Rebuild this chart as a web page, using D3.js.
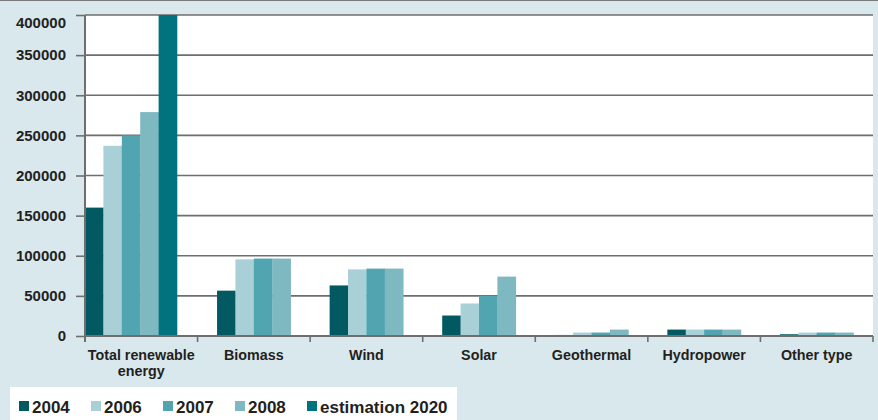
<!DOCTYPE html>
<html>
<head>
<meta charset="utf-8">
<script src="https://cdn.jsdelivr.net/npm/d3@7"></script>
<style>
  body { margin: 0; background: #d9e8ec; }
  svg { display: block; }
  text { font-family: "Liberation Sans", Arial, sans-serif; font-weight: bold; fill: #231f20; }
</style>
</head>
<body>
<div id="chart"></div>
<script>
// data
const categories = ["Total renewable energy", "Biomass", "Wind", "Solar", "Geothermal", "Hydropower", "Other type"];
const seriesNames = ["2004", "2006", "2007", "2008", "estimation 2020"];
const v2004 = [160000, 56500, 63000, 25500, 1300, 8000, 2200];
const v2006 = [237000, 95500, 83000, 40500, 4300, 8000, 4300];
const v2007 = [250000, 96500, 84000, 50000, 4300, 8000, 4300];
const v2008 = [279000, 96500, 84000, 74000, 8000, 8000, 4300];
const v2020 = [400000, null, null, null, null, null, null];
const yTicks = [0, 50000, 100000, 150000, 200000, 250000, 300000, 350000, 400000];

const seriesValues = [v2004, v2006, v2007, v2008, v2020];
const colors = ["#025962", "#a9cfd7", "#51a5b0", "#7eb8c1", "#00737f"];

function makeChart() {
    let svgWidth = 878;
    let svgHeight = 420;
    let margin = { top: 15, right: 5, bottom: 84, left: 85 };
    let w = svgWidth - margin.left - margin.right;
    let h = svgHeight - margin.top - margin.bottom;

    let svg = d3.select("#chart")
        .append("svg")
        .attr("width", svgWidth)
        .attr("height", svgHeight);

    // top border
    svg.append("line")
        .attr("x1", 0).attr("x2", svgWidth)
        .attr("y1", 0.5).attr("y2", 0.5)
        .attr("stroke", "#7a7a7a");

    let chartGroup = svg.append("g")
        .attr("transform", `translate(${margin.left}, ${margin.top})`);

    chartGroup.append("rect")
        .attr("width", w).attr("height", h)
        .attr("fill", "#fff");

    let x0 = d3.scaleBand().domain(categories).range([0, w]).padding(0);
    let y = d3.scaleLinear().domain([0, 400000]).range([h, 0]);

    //gridlines
    chartGroup.append("g")
        .selectAll("line")
        .data(yTicks.filter(d => d > 0))
        .enter()
        .append("line")
        .attr("x1", 0).attr("x2", w)
        .attr("y1", d => y(d)).attr("y2", d => y(d))
        .attr("stroke", "#6e6e6e")
        .attr("stroke-width", 1.6);

    //bars
    let barW = 18.4;
    let groups = chartGroup.selectAll(".grp")
        .data(categories)
        .enter()
        .append("g")
        .attr("class", "grp")
        .attr("transform", d => `translate(${x0(d)},0)`);

    groups.each(function(cat, ci) {
        let present = seriesNames
            .map((s, si) => ({ s: s, v: seriesValues[si][ci], c: colors[si] }))
            .filter(d => d.v !== null);
        let n = present.length;
        let x1 = d3.scaleBand().domain(present.map(d => d.s)).range([0, n * barW]);
        let off = n === seriesNames.length ? 0 : (x0.bandwidth() - n * barW) / 2;
        d3.select(this).selectAll("rect")
            .data(present)
            .enter()
            .append("rect")
            .attr("x", d => off + x1(d.s))
            .attr("width", x1.bandwidth() + 0.3)
            .attr("y", d => y(d.v))
            .attr("height", d => h - y(d.v))
            .attr("fill", d => d.c);
    });

    //y axis
    let yAxis = d3.axisLeft(y).tickValues(yTicks).tickSize(9).tickPadding(10).tickFormat(d3.format("d"));
    let yg = chartGroup.append("g").call(yAxis);
    yg.select(".domain").remove();
    yg.selectAll(".tick line").attr("stroke", "#6e6e6e").attr("stroke-width", 1.6);
    yg.selectAll(".tick text").attr("font-size", "15px").attr("fill", "#231f20");
    yg.selectAll(".tick").filter(d => d === 400000).select("text").attr("dy", "0.85em");

    chartGroup.append("line")
        .attr("x1", 0).attr("x2", 0)
        .attr("y1", 0).attr("y2", h + 6)
        .attr("stroke", "#6e6e6e").attr("stroke-width", 2);

    //x axis
    chartGroup.append("line")
        .attr("x1", 0).attr("x2", w)
        .attr("y1", h).attr("y2", h)
        .attr("stroke", "#6e6e6e").attr("stroke-width", 2);

    chartGroup.append("g")
        .selectAll("line")
        .data(categories.concat(["end"]))
        .enter()
        .append("line")
        .attr("x1", (d, i) => i * x0.bandwidth())
        .attr("x2", (d, i) => i * x0.bandwidth())
        .attr("y1", h).attr("y2", h + 6)
        .attr("stroke", "#6e6e6e").attr("stroke-width", 1.6);

    let labels = chartGroup.append("g")
        .selectAll("text")
        .data(categories)
        .enter()
        .append("text")
        .attr("x", d => x0(d) + x0.bandwidth() / 2)
        .attr("y", h + 24)
        .attr("text-anchor", "middle")
        .attr("font-size", "14.3px");

    labels.each(function(d) {
        let t = d3.select(this);
        let words = d.split(" ");
        let line = [];
        let tspan = t.append("tspan").attr("x", t.attr("x")).attr("dy", 0);
        words.forEach(word => {
            line.push(word);
            tspan.text(line.join(" "));
            if (tspan.node().getComputedTextLength() > x0.bandwidth() - 4 && line.length > 1) {
                line.pop();
                tspan.text(line.join(" "));
                line = [word];
                tspan = t.append("tspan").attr("x", t.attr("x")).attr("dy", "16px").text(word);
            }
        });
    });

    //legend
    svg.append("rect")
        .attr("x", 10).attr("y", 387)
        .attr("width", 447).attr("height", 40)
        .attr("fill", "#fff");

    let leg = svg.append("g")
        .selectAll("g")
        .data(seriesNames)
        .enter()
        .append("g")
        .attr("transform", (d, i) => `translate(${32 + i * 72}, 0)`);

    leg.append("rect")
        .attr("x", -13).attr("y", 401)
        .attr("width", 10).attr("height", 10)
        .attr("fill", (d, i) => colors[i]);

    leg.append("text")
        .attr("x", 0).attr("y", 413)
        .attr("font-size", "17px")
        .text(d => d);
}

makeChart();
</script>
</body>
</html>
